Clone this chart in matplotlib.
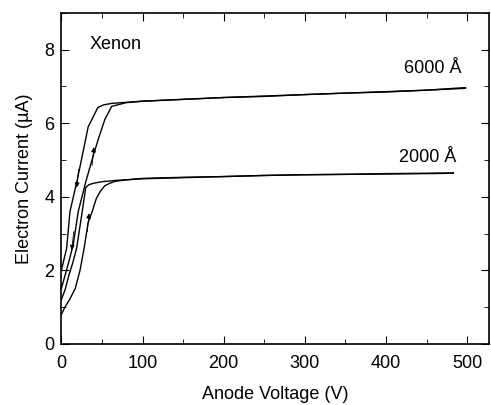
import numpy as np
import matplotlib
matplotlib.use("Agg")
import matplotlib.pyplot as plt
from matplotlib.ticker import MultipleLocator

plt.rcParams['font.family'] = ['Liberation Sans', 'DejaVu Sans']

# 6000 A loop: up sweep then down sweep
v6_up = [0, 5, 10, 14.6, 20.8, 30, 39, 46, 53.5, 62, 80, 100, 150, 200, 250, 300, 350, 400, 450, 498]
i6_up = [1.5, 1.9, 2.3, 2.7, 3.6, 4.4, 5.1, 5.6, 6.1, 6.46, 6.56, 6.6, 6.65, 6.7, 6.74, 6.78, 6.82, 6.86, 6.9, 6.97]
v6_dn = [498, 450, 400, 350, 300, 250, 200, 150, 100, 80, 62, 52, 45, 33, 20, 10.6, 6.5, 0]
i6_dn = [6.95, 6.9, 6.85, 6.82, 6.78, 6.73, 6.7, 6.65, 6.6, 6.57, 6.54, 6.5, 6.43, 5.9, 4.5, 3.6, 2.6, 2.0]

# 2000 A loop
v2_up = [0, 4.4, 10, 17, 23, 28, 33, 38, 43, 48, 53.5, 60, 66, 80, 100, 150, 200, 250, 300, 350, 400, 450, 483]
i2_up = [0.8, 1.0, 1.2, 1.5, 2.0, 2.6, 3.3, 3.6, 3.95, 4.15, 4.3, 4.37, 4.42, 4.46, 4.5, 4.53, 4.55, 4.58, 4.6, 4.61, 4.63, 4.64, 4.65]
v2_dn = [483, 450, 400, 350, 300, 250, 200, 150, 100, 70, 50, 40, 34, 30, 25.7, 18.8, 14, 9, 5, 0]
i2_dn = [4.64, 4.63, 4.62, 4.61, 4.6, 4.58, 4.55, 4.52, 4.49, 4.45, 4.41, 4.37, 4.33, 4.25, 3.6, 2.6, 2.2, 1.85, 1.5, 1.2]

# arrow positions (x, y, direction)
arrows = [(20, 4.5, -1), (39, 5.1, 1), (14, 2.8, -1), (33, 3.3, 1)]

fig = plt.figure(figsize=(4.91, 4.05), dpi=100)
ax = fig.add_axes([0.125, 0.151, 0.871, 0.817])

for v, i in [(v6_up, i6_up), (v6_dn, i6_dn), (v2_up, i2_up), (v2_dn, i2_dn)]:
    ax.plot(v, i, color='black', lw=1.0)

for x, y, d in arrows:
    ax.annotate('', xy=(x + d * 1.2, y + d * 0.25), xytext=(x - d * 1.2, y - d * 0.25),
                arrowprops=dict(arrowstyle='-|>', color='black', lw=0.6,
                                mutation_scale=7, shrinkA=0, shrinkB=0))

ax.text(35, 8.15, 'Xenon', fontsize=13, va='center', ha='left')
ax.text(422, 7.5, '6000 Å', fontsize=13, va='center', ha='left')
ax.text(416, 5.08, '2000 Å', fontsize=13, va='center', ha='left')

ax.set_xlim(0, 527)
ax.set_ylim(0, 9)
ax.xaxis.set_major_locator(MultipleLocator(100))
ax.xaxis.set_minor_locator(MultipleLocator(50))
ax.yaxis.set_major_locator(MultipleLocator(2))
ax.yaxis.set_minor_locator(MultipleLocator(1))
ax.tick_params(which='both', direction='in', top=True, right=True, labelsize=13)
ax.tick_params(which='major', length=6)
ax.tick_params(which='minor', length=3.5)
ax.tick_params(axis='x', pad=8)
ax.tick_params(axis='y', pad=5)
for s in ax.spines.values():
    s.set_linewidth(1.2)

ax.set_xlabel('Anode Voltage (V)', fontsize=13, labelpad=10)
ax.set_ylabel('Electron Current (µA)', fontsize=13, labelpad=8)

fig.savefig('out.png', dpi=100)
